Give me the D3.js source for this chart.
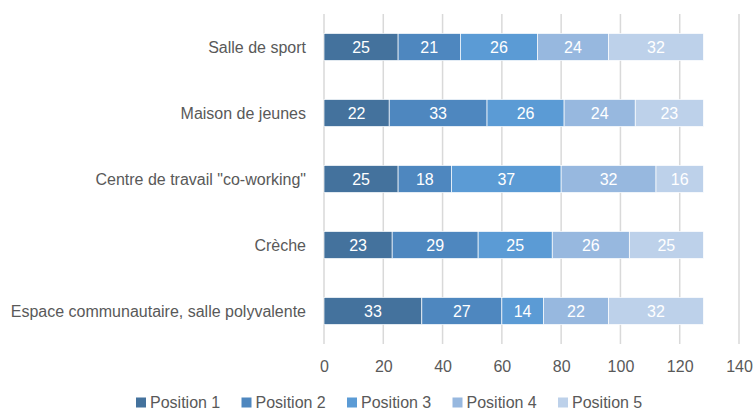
<!DOCTYPE html>
<html>
<head>
<meta charset="utf-8">
<script src="https://cdn.jsdelivr.net/npm/d3@7"></script>
<style>
  body { margin: 0; background: #fff; }
  text { font-family: "Liberation Sans", Arial, sans-serif; }
</style>
</head>
<body>
<svg width="754" height="412"></svg>
<script>
// categories, top to bottom
var categories = ["Salle de sport", "Maison de jeunes", "Centre de travail \"co-working\"", "Crèche", "Espace communautaire, salle polyvalente"];
var seriesNames = ["Position 1", "Position 2", "Position 3", "Position 4", "Position 5"];
var pos1 = [25, 22, 25, 23, 33];
var pos2 = [21, 33, 18, 29, 27];
var pos3 = [26, 26, 37, 25, 14];
var pos4 = [24, 24, 32, 26, 22];
var pos5 = [32, 23, 16, 25, 32];
var xTicks = [0, 20, 40, 60, 80, 100, 120, 140];
var colors = ["#44729d", "#4e87bf", "#5b9bd5", "#97b8df", "#bdd1ea"];

var svg = d3.select("svg");
var series = [pos1, pos2, pos3, pos4, pos5];

var rows = categories.map(function(c, i) {
    var r = {cat: c};
    seriesNames.forEach(function(s, j) { r[s] = series[j][i]; });
    return r;
});

var x = d3.scaleLinear().domain([0, 140]).range([324, 739]);
var y = d3.scaleBand().domain(categories).range([14, 344]).paddingInner(0.59).paddingOuter(0.295);

// gridlines
svg.append("g").selectAll("line")
    .data(xTicks)
    .enter()
    .append("line")
    .attr("x1", function(d) { return x(d); })
    .attr("x2", function(d) { return x(d); })
    .attr("y1", 14)
    .attr("y2", 344)
    .attr("stroke", "#d9d9d9")
    .attr("stroke-width", 1.5);

var stack = d3.stack().keys(seriesNames)(rows);

var layer = svg.selectAll("g.layer")
    .data(stack)
    .enter()
    .append("g")
    .attr("class", "layer")
    .attr("fill", function(d, i) { return colors[i]; });

layer.selectAll("rect")
    .data(function(d) { return d; })
    .enter()
    .append("rect")
    .attr("x", function(d) { return x(d[0]); })
    .attr("y", function(d) { return y(d.data.cat); })
    .attr("width", function(d) { return x(d[1]) - x(d[0]); })
    .attr("height", y.bandwidth())
    .attr("stroke", "#fff")
    .attr("stroke-width", 0.7);

layer.selectAll("text")
    .data(function(d) { return d; })
    .enter()
    .append("text")
    .attr("x", function(d) { return (x(d[0]) + x(d[1])) / 2; })
    .attr("y", function(d) { return y(d.data.cat) + y.bandwidth() / 2; })
    .attr("dy", "0.36em")
    .attr("text-anchor", "middle")
    .attr("fill", "#fff")
    .style("font-size", "16px")
    .text(function(d) { return d[1] - d[0]; });

// category labels
svg.append("g").selectAll("text")
    .data(categories)
    .enter()
    .append("text")
    .attr("x", 306)
    .attr("y", function(d) { return y(d) + y.bandwidth() / 2; })
    .attr("dy", "0.36em")
    .attr("text-anchor", "end")
    .attr("fill", "#595959")
    .style("font-size", "16px")
    .text(function(d) { return d; });

// x axis labels
var xAxis = d3.axisBottom(x).tickValues(xTicks).tickSize(0).tickPadding(0);
var gx = svg.append("g")
    .attr("transform", "translate(0,361)")
    .call(xAxis);
gx.select(".domain").remove();
gx.selectAll("text")
    .attr("fill", "#595959")
    .style("font-size", "16px")
    .style("font-family", "Liberation Sans, Arial, sans-serif");

// legend
var legend = svg.append("g").selectAll("g")
    .data(seriesNames)
    .enter()
    .append("g")
    .attr("transform", function(d, i) { return "translate(" + (136 + i * 105.5) + ",397.5)"; });
legend.append("rect")
    .attr("width", 10)
    .attr("height", 10)
    .attr("fill", function(d, i) { return colors[i]; });
legend.append("text")
    .attr("x", 14)
    .attr("y", 5)
    .attr("dy", "0.36em")
    .attr("fill", "#595959")
    .style("font-size", "16px")
    .text(function(d) { return d; });
</script>
</body>
</html>
